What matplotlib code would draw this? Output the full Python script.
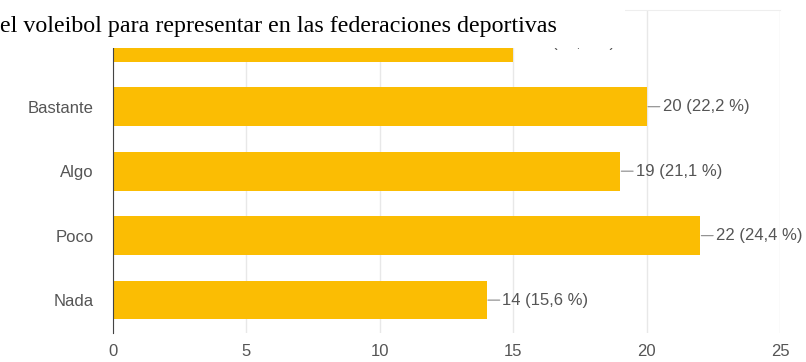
import matplotlib.pyplot as plt
from matplotlib.patches import Rectangle

# survey answers, bottom to top
categories = ['Nada', 'Poco', 'Algo', 'Bastante', 'Mucho']
counts = [14, 22, 19, 20, 15]
total = sum(counts)
xticks = [0, 5, 10, 15, 20, 25]

bar_color = '#fbbd03'
text_color = '#555555'

plt.rcParams['font.family'] = ['Liberation Sans', 'DejaVu Sans']

fig = plt.figure(figsize=(8.06, 3.62), dpi=100)
ax = fig.add_axes([113 / 806, 29 / 362, 667 / 806, 323 / 362])

ypos = list(range(len(categories)))
ax.barh(ypos, counts, height=0.6, color=bar_color, zorder=2)

# value labels with a short leader line
for y, c in zip(ypos, counts):
    pct = f'{c / total * 100:.1f}'.replace('.', ',')
    ax.annotate(f'{c} ({pct} %)', xy=(c, y), xytext=(11.5, 0),
                textcoords='offset points', va='center', ha='left',
                fontsize=12, color=text_color, zorder=3,
                arrowprops=dict(arrowstyle='-', color='#888888', lw=0.8,
                                shrinkA=0, shrinkB=1))

ax.set_xlim(0, 25)
ax.set_ylim(-0.51, 4.5)
ax.set_xticks(xticks)
ax.set_xticklabels([str(t) for t in xticks])
ax.set_yticks(ypos[:4])
ax.set_yticklabels(categories[:4])
ax.tick_params(axis='both', length=0, labelsize=12, labelcolor=text_color)
ax.tick_params(axis='y', pad=14)
ax.tick_params(axis='x', pad=8)

ax.grid(axis='x', color='#e8e8e8', lw=1, zorder=0)
ax.spines['bottom'].set_visible(False)
ax.spines['right'].set_visible(False)
ax.spines['top'].set_color('#eeeeee')
ax.spines['left'].set_color('#444444')
ax.spines['left'].set_zorder(4)

# heading band laid over the top of the chart
fig.patches.append(Rectangle((0, 314 / 362), 625 / 806, 48 / 362,
                             transform=fig.transFigure, facecolor='white',
                             edgecolor='none', zorder=5))
fig.text(0, 1 - 32 / 362,
         'el voleibol para representar en las federaciones deportivas',
         family='Liberation Serif', fontsize=17.3, color='black',
         va='baseline', ha='left', zorder=6)

fig.savefig('out.png', dpi=100, facecolor='white')
